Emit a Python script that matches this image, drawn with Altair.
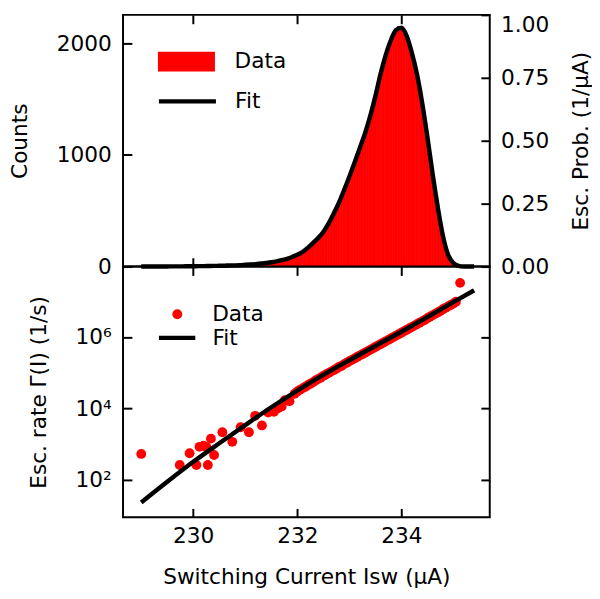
import altair as alt
import numpy as np
import pandas as pd

# ---------------- data ----------------
# Top panel: histogram of switching currents (bin centres every 0.05 uA)
hist_first_centre = 229.0
hist_bin_width = 0.05
hist_counts = [
    0, 1, 1, 0, 1, 1, 1, 0, 1, 1,
    1, 2, 1, 2, 2, 2, 3, 2, 2, 3,
    3, 4, 3, 4, 4, 5, 5, 5, 6, 6,
    7, 8, 8, 9, 10, 10, 11, 12, 13, 15,
    16, 17, 19, 21, 22, 25, 27, 29, 32, 35,
    39, 43, 47, 52, 57, 63, 70, 77, 86, 95,
    105, 118, 133, 148, 170, 188, 212, 232, 258, 282,
    312, 352, 388, 430, 478, 523, 575, 640, 688, 748,
    810, 868, 935, 1008, 1062, 1125, 1195, 1255, 1350, 1435,
    1530, 1640, 1722, 1815, 1898, 1955, 2035, 2080, 2125, 2150,
    2138, 2100, 2072, 2000, 1918, 1840, 1722, 1590, 1475, 1318,
    1168, 1012, 832, 682, 532, 410, 272, 182, 102, 62,
    30, 16, 7, 3, 1, 1, 0, 0, 0, 0,
]

# Top panel: fitted distribution (every 0.1 uA from 229.0)
fit_hist_first = 229.0
fit_hist_step = 0.1
fit_hist_counts = [
    1, 1, 1, 1, 1, 1, 2, 2, 2, 3,
    3, 4, 4, 5, 6, 7, 8, 10, 11, 13,
    16, 19, 22, 27, 32, 39, 47, 57, 70, 86,
    105, 131, 168, 210, 255, 310, 385, 475, 572, 685,
    805, 930, 1060, 1190, 1345, 1525, 1725, 1895, 2030, 2120,
    2140, 2070, 1920, 1725, 1470, 1165, 835, 535, 275, 105,
    32, 7, 1, 0, 0,
]

# Bottom panel: escape rate data points (current in uA, log10 of rate in 1/s)
rate_current = [
    229.00, 229.74, 229.93, 230.06, 230.12, 230.20, 230.25, 230.28, 230.34, 230.40,
    230.56, 230.75, 230.91, 231.07, 231.19, 231.32, 231.44, 231.55, 231.63, 231.70,
    231.76, 231.85, 231.95,
    232.00, 232.05, 232.10, 232.15, 232.20, 232.25, 232.30, 232.35, 232.40, 232.45,
    232.50, 232.55, 232.60, 232.65, 232.70, 232.75, 232.80, 232.85, 232.90, 232.95,
    233.00, 233.05, 233.10, 233.15, 233.20, 233.25, 233.30, 233.35, 233.40, 233.45,
    233.50, 233.55, 233.60, 233.65, 233.70, 233.75, 233.80, 233.85, 233.90, 233.95,
    234.00, 234.05, 234.10, 234.15, 234.20, 234.25, 234.30, 234.35, 234.40, 234.45,
    234.50, 234.55, 234.60, 234.65, 234.70, 234.75, 234.80, 234.85, 234.90, 234.95,
    235.00, 235.05, 235.13,
]
rate_log10 = [
    2.72, 2.41, 2.74, 2.41, 2.92, 2.95, 2.92, 2.41, 3.15, 2.69,
    3.33, 3.06, 3.47, 3.33, 3.79, 3.52, 3.88, 3.90, 4.00, 4.05,
    4.23, 4.20, 4.41,
    4.47, 4.52, 4.56, 4.60, 4.65, 4.69, 4.73, 4.78, 4.82, 4.86,
    4.91, 4.95, 4.99, 5.03, 5.07, 5.11, 5.16, 5.19, 5.24, 5.28,
    5.32, 5.36, 5.40, 5.44, 5.48, 5.52, 5.56, 5.60, 5.64, 5.68,
    5.72, 5.76, 5.80, 5.84, 5.88, 5.92, 5.96, 6.00, 6.04, 6.08,
    6.12, 6.16, 6.20, 6.24, 6.28, 6.32, 6.36, 6.40, 6.44, 6.48,
    6.53, 6.57, 6.61, 6.65, 6.69, 6.73, 6.78, 6.82, 6.86, 6.90,
    6.94, 6.99, 7.52,
]

# Bottom panel: fitted escape rate
fit_rate_current = [229.0, 229.5, 230.0, 230.5, 231.0, 231.5, 232.0, 232.5,
                    233.0, 233.5, 234.0, 234.5, 235.0, 235.4]
fit_rate_log10 = [1.36, 1.94, 2.50, 3.02, 3.53, 4.03, 4.50, 4.94,
                  5.35, 5.75, 6.15, 6.56, 6.98, 7.31]

x_ticks = [230, 232, 234]
count_ticks = [0, 1000, 2000]
prob_ticks = [0.0, 0.25, 0.5, 0.75, 1.0]
rate_ticks = [1e2, 1e4, 1e6]

# ---------------- tables ----------------
centres = hist_first_centre + hist_bin_width * np.arange(len(hist_counts))
hist_df = pd.DataFrame({
    "lo": centres - hist_bin_width / 2,
    "hi": centres + hist_bin_width / 2,
    "counts": hist_counts,
    "series": "Data",
})
fit_hist_df = pd.DataFrame({
    "current": fit_hist_first + fit_hist_step * np.arange(len(fit_hist_counts)),
    "counts": fit_hist_counts,
    "series": "Fit",
})
prob_df = pd.DataFrame({"prob": [0.0, 1.0]})
rate_df = pd.DataFrame({
    "current": rate_current,
    "rate": 10.0 ** np.array(rate_log10),
    "series": "Data",
})
fit_rate_df = pd.DataFrame({
    "current": fit_rate_current,
    "rate": 10.0 ** np.array(fit_rate_log10),
    "series": "Fit",
})

FONT = "DejaVu Sans"
W, H1, H2 = 373, 256, 255
x_scale = alt.Scale(domain=[228.65, 235.70], zero=False, nice=False)
TS = 9
RECT = "M-1,-0.345H1V0.345H-1Z"
HLINE = "M-1,0H1"


def inward_axis(orient, values, labels=False, title=None, **kw):
    return alt.Axis(orient=orient, values=values, labels=labels, title=title,
                    domain=False, grid=False, ticks=True, tickSize=TS, tickWidth=2,
                    tickColor="black", offset=-TS, minExtent=0, **kw)


def legend(x, y, shape, size, label_offset, stroke_width=0):
    return alt.Legend(title=None, orient="none", legendX=x, legendY=y,
                      labelFont=FONT, labelFontSize=22, labelColor="black",
                      symbolType=shape, symbolSize=size, symbolOpacity=1,
                      symbolStrokeWidth=stroke_width, labelOffset=label_offset,
                      padding=0)


# ---------------- top panel ----------------
count_scale = alt.Scale(domain=[0, 2255], nice=False)
bars = alt.Chart(hist_df).mark_rect(stroke="#ff0000", strokeWidth=0.8).encode(
    x=alt.X("lo:Q", scale=x_scale, axis=inward_axis("bottom", x_ticks)),
    x2="hi:Q",
    y=alt.Y("counts:Q", scale=count_scale,
            axis=inward_axis("left", count_ticks, labels=True, title="Counts",
                             format="d", labelPadding=12, titlePadding=25)),
    y2=alt.datum(0),
    fill=alt.Fill("series:N", scale=alt.Scale(domain=["Data"], range=["#ff0000"]),
                  legend=legend(35.5, 18.5, RECT, 3364, 20)),
)
fit_top = alt.Chart(fit_hist_df).mark_line(strokeWidth=4.5, interpolate="monotone").encode(
    x=alt.X("current:Q", scale=x_scale, axis=inward_axis("top", x_ticks)),
    y=alt.Y("counts:Q", scale=count_scale, axis=None),
    stroke=alt.Stroke("series:N", scale=alt.Scale(domain=["Fit"], range=["#000000"]),
                      legend=legend(34, 56.5, HLINE, 3364, 17, 4.5)),
)
prob_axis = alt.Chart(prob_df).mark_rule(opacity=0).encode(
    y=alt.Y("prob:Q", scale=alt.Scale(domain=[0, 1], nice=False),
            axis=inward_axis("right", prob_ticks, labels=True, title="Esc. Prob. (1/μA)",
                             format=".2f", labelPadding=11, titlePadding=22,
                             titleAngle=270, titleBaseline="top",
                             labelOffset=alt.condition("datum.value == 1", alt.value(10), alt.value(0)))),
)
top = alt.layer(bars, fit_top, prob_axis).resolve_scale(y="independent").resolve_axis(
    x="independent", y="independent").properties(width=W, height=H1)

# ---------------- bottom panel ----------------
rate_y_scale = alt.Scale(type="log", domain=[10 ** 0.943, 10 ** 7.977], nice=False)
label_expr = "datum.value == 100 ? '10²' : datum.value == 10000 ? '10⁴' : '10⁶'"
points = alt.Chart(rate_df).mark_circle(size=100, opacity=1).encode(
    x=alt.X("current:Q", scale=x_scale,
            axis=inward_axis("bottom", x_ticks, labels=True,
                             title="Switching Current Isw (μA)",
                             labelPadding=9, titlePadding=20)),
    y=alt.Y("rate:Q", scale=rate_y_scale,
            axis=inward_axis("left", rate_ticks, labels=True,
                             title="Esc. rate Γ(I) (1/s)", labelExpr=label_expr,
                             labelPadding=12, titlePadding=25)),
    fill=alt.Fill("series:N", scale=alt.Scale(domain=["Data"], range=["#ff0000"]),
                  legend=legend(44.2, 37.5, "circle", 100, 24.5)),
)
fit_bottom = alt.Chart(fit_rate_df).mark_line(strokeWidth=4.5, interpolate="monotone").encode(
    x=alt.X("current:Q", scale=x_scale, axis=inward_axis("top", x_ticks)),
    y=alt.Y("rate:Q", scale=rate_y_scale, axis=inward_axis("right", rate_ticks)),
    stroke=alt.Stroke("series:N", scale=alt.Scale(domain=["Fit"], range=["#000000"]),
                      legend=legend(34, 51.5, HLINE, 1369, 15, 4.5)),
)
bottom = alt.layer(points, fit_bottom).resolve_axis(
    x="independent", y="independent").properties(width=W, height=H2)

chart = alt.vconcat(top, bottom, spacing=0, bounds="flush").resolve_scale(
    x="independent", y="independent", fill="independent", stroke="independent"
).configure(
    padding=0,
    font=FONT,
).configure_view(
    stroke="black", strokeWidth=2,
).configure_axis(
    labelFont=FONT, titleFont=FONT, labelFontSize=22, titleFontSize=22,
    titleFontWeight="normal", labelColor="black", titleColor="black",
    labelOverlap=False,
)

chart.save("out.html", embed_options={"renderer": "svg", "actions": False})
